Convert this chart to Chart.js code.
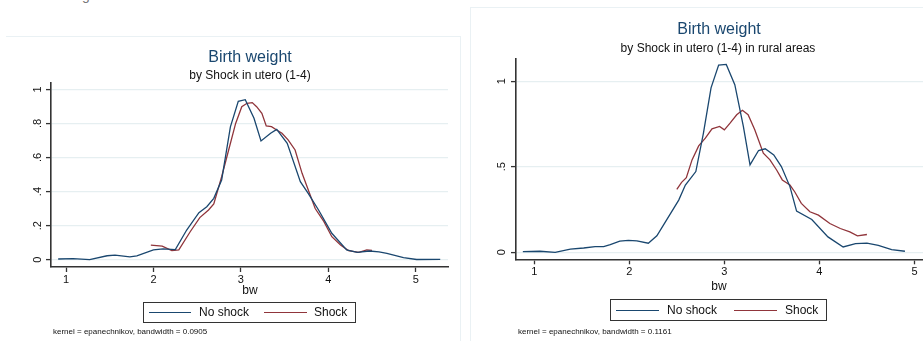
<!DOCTYPE html>
<html>
<head>
<meta charset="utf-8">
<script src="https://cdn.jsdelivr.net/npm/chart.js@4/dist/chart.umd.min.js"></script>
<style>
  body { margin: 0; background: #fff; font-family: "Liberation Sans", Arial, sans-serif; }
  #page { position: relative; width: 923px; height: 341px; overflow: hidden; }
  canvas { position: absolute; top: 0; }
  .txt { position: absolute; white-space: nowrap; line-height: 1; }
  .title { font-size: 16px; color: #1a476f; transform: translate(-50%, -50%); }
  .sub { font-size: 12px; color: #111; transform: translate(-50%, -50%); }
  .xlab { font-size: 12px; color: #111; transform: translate(-50%, -50%); }
  .note { font-size: 8px; color: #111; transform: translateY(-50%); }
  .legend { position: absolute; border: 1.5px solid #333; box-sizing: border-box; background: #fff; }
  .swatch { position: absolute; height: 0; border-top: 1.6px solid; }
  .ltxt { position: absolute; font-size: 12px; color: #111; transform: translateY(-50%); white-space: nowrap; line-height: 1; }
  .faint { position: absolute; background: #eaf1f4; }
</style>
</head>
<body>
<div id="page">
  <div class="txt" style="left:82px;top:-12px;font-size:14px;color:#777">g</div>
  <div class="faint" style="left:6px;top:36px;width:455px;height:1px"></div>
  <div class="faint" style="left:460px;top:36px;width:1px;height:305px"></div>
  <div class="faint" style="left:470px;top:7px;width:453px;height:1px"></div>
  <div class="faint" style="left:470px;top:7px;width:1px;height:334px"></div>

  <canvas id="leftChart" width="460" height="341" style="left:0"></canvas>
  <canvas id="rightChart" width="452" height="341" style="left:471px"></canvas>

  <div class="txt title" style="left:250px;top:57px">Birth weight</div>
  <div class="txt sub" style="left:250px;top:75px">by Shock in utero (1-4)</div>
  <div class="txt xlab" style="left:250px;top:290px">bw</div>
  <div class="legend" style="left:143px;top:302px;width:213px;height:21px"></div>
  <div class="swatch" style="left:149px;top:312px;width:42px;border-color:#1a476f"></div>
  <div class="ltxt" style="left:199px;top:312px">No shock</div>
  <div class="swatch" style="left:264px;top:312px;width:43px;border-color:#90353b"></div>
  <div class="ltxt" style="left:314px;top:312px">Shock</div>
  <div class="txt note" style="left:53px;top:332px">kernel = epanechnikov, bandwidth = 0.0905</div>

  <div class="txt title" style="left:719px;top:29px">Birth weight</div>
  <div class="txt sub" style="left:718px;top:48px">by Shock in utero (1-4) in rural areas</div>
  <div class="txt xlab" style="left:719px;top:286px">bw</div>
  <div class="legend" style="left:610px;top:299px;width:217px;height:22px"></div>
  <div class="swatch" style="left:616px;top:310px;width:43px;border-color:#1a476f"></div>
  <div class="ltxt" style="left:667px;top:310px">No shock</div>
  <div class="swatch" style="left:734px;top:310px;width:43px;border-color:#90353b"></div>
  <div class="ltxt" style="left:785px;top:310px">Shock</div>
  <div class="txt note" style="left:518px;top:332px">kernel = epanechnikov, bandwidth = 0.1161</div>
</div>

<script>
const bwTicks = [1, 2, 3, 4, 5];

// left panel: all areas
const leftNoShockBw = [0.91, 1.08, 1.27, 1.47, 1.56, 1.73, 1.81, 2.00, 2.11, 2.25, 2.38, 2.52, 2.61, 2.69, 2.78, 2.88, 2.97, 3.05, 3.15, 3.23, 3.34, 3.41, 3.53, 3.68, 3.77, 3.89, 4.04, 4.21, 4.33, 4.47, 4.58, 4.67, 4.86, 5.01, 5.28];
const leftNoShockDensity = [0.004, 0.006, 0, 0.023, 0.027, 0.016, 0.022, 0.057, 0.063, 0.059, 0.174, 0.276, 0.311, 0.36, 0.468, 0.78, 0.93, 0.939, 0.83, 0.697, 0.742, 0.765, 0.683, 0.458, 0.389, 0.29, 0.155, 0.057, 0.043, 0.051, 0.046, 0.037, 0.012, 0.001, 0.002];
const leftShockBw = [1.97, 2.10, 2.21, 2.29, 2.42, 2.53, 2.63, 2.69, 2.78, 2.86, 2.94, 3.01, 3.07, 3.13, 3.18, 3.24, 3.29, 3.35, 3.41, 3.47, 3.54, 3.62, 3.70, 3.77, 3.85, 3.95, 4.04, 4.14, 4.23, 4.35, 4.44, 4.50];
const leftShockDensity = [0.086, 0.08, 0.053, 0.057, 0.164, 0.247, 0.292, 0.327, 0.487, 0.644, 0.80, 0.898, 0.918, 0.922, 0.898, 0.859, 0.785, 0.781, 0.761, 0.742, 0.703, 0.644, 0.507, 0.41, 0.30, 0.223, 0.135, 0.086, 0.053, 0.043, 0.057, 0.055];
const leftYTicks = [0, 0.2, 0.4, 0.6, 0.8, 1];
const leftYLabels = ["0", ".2", ".4", ".6", ".8", "1"];

// right panel: rural areas
const rightNoShockBw = [0.88, 1.06, 1.22, 1.38, 1.52, 1.64, 1.73, 1.80, 1.90, 1.99, 2.08, 2.20, 2.29, 2.38, 2.52, 2.59, 2.70, 2.78, 2.86, 2.94, 3.02, 3.11, 3.20, 3.27, 3.36, 3.43, 3.52, 3.60, 3.69, 3.76, 3.92, 4.09, 4.25, 4.38, 4.50, 4.62, 4.76, 4.90];
const rightNoShockDensity = [0.004, 0.006, 0, 0.018, 0.025, 0.033, 0.033, 0.045, 0.065, 0.07, 0.067, 0.053, 0.096, 0.178, 0.305, 0.393, 0.472, 0.697, 0.961, 1.094, 1.098, 0.98, 0.736, 0.511, 0.595, 0.605, 0.569, 0.501, 0.384, 0.241, 0.192, 0.09, 0.031, 0.051, 0.053, 0.041, 0.016, 0.006];
const rightShockBw = [2.50, 2.55, 2.60, 2.66, 2.73, 2.80, 2.87, 2.95, 3.00, 3.06, 3.13, 3.19, 3.25, 3.32, 3.41, 3.48, 3.55, 3.61, 3.69, 3.74, 3.81, 3.90, 3.99, 4.11, 4.22, 4.32, 4.40, 4.50];
const rightShockDensity = [0.368, 0.409, 0.436, 0.54, 0.622, 0.667, 0.722, 0.736, 0.716, 0.755, 0.804, 0.83, 0.804, 0.716, 0.579, 0.540, 0.481, 0.423, 0.393, 0.354, 0.286, 0.237, 0.217, 0.168, 0.139, 0.119, 0.096, 0.104];
const rightYTicks = [0, 0.5, 1];
const rightYLabels = ["0", ".5", "1"];

const BLUE = "#1a476f";
const RED = "#90353b";
const AXIS = "#333";
const GRID = "#e6eff1";
const FONT = '"Liberation Sans", Arial, sans-serif';

function toPoints(xs, ys) {
    return xs.map((x, i) => ({x: x, y: ys[i]}));
}

// y tick labels in Stata are turned on their side, Chart.js can't rotate them
const rotatedYLabels = {
    id: "rotatedYLabels",
    afterDraw(chart, args, opts) {
        const ctx = chart.ctx;
        const y = chart.scales.y;
        ctx.save();
        ctx.font = "11px " + FONT;
        ctx.fillStyle = "#111";
        ctx.textAlign = "center";
        ctx.textBaseline = "middle";
        opts.values.forEach((v, i) => {
            ctx.save();
            ctx.translate(opts.x, y.getPixelForValue(v));
            ctx.rotate(-Math.PI / 2);
            ctx.fillText(opts.labels[i], 0, 0);
            ctx.restore();
        });
        ctx.restore();
    }
};

function makeChart(id, cfg) {
    return new Chart(document.getElementById(id), {
        type: "line",
        data: {
            datasets: [
                {label: "No shock", data: toPoints(cfg.noShockBw, cfg.noShockDensity), borderColor: BLUE, borderWidth: 1.3},
                {label: "Shock", data: toPoints(cfg.shockBw, cfg.shockDensity), borderColor: RED, borderWidth: 1.3}
            ]
        },
        options: {
            responsive: false,
            animation: false,
            devicePixelRatio: 1,
            elements: {point: {radius: 0}, line: {tension: 0}},
            layout: {padding: {left: 0, right: cfg.padRight, top: cfg.padTop, bottom: 0}},
            plugins: {
                legend: {display: false},
                tooltip: {enabled: false},
                rotatedYLabels: {values: cfg.yTicks, labels: cfg.yLabels, x: cfg.yLabelX}
            },
            scales: {
                x: {
                    type: "linear",
                    min: cfg.xMin,
                    max: cfg.xMax,
                    afterBuildTicks: s => { s.ticks = bwTicks.map(v => ({value: v})); },
                    afterFit: s => { s.height = cfg.xHeight; },
                    ticks: {font: {size: 11, family: FONT}, color: "#111", padding: 1, maxRotation: 0},
                    grid: {drawOnChartArea: false, drawTicks: true, tickLength: 5, tickColor: AXIS, tickWidth: 1.3},
                    border: {color: AXIS, width: 1.6}
                },
                y: {
                    min: cfg.yMin,
                    max: cfg.yMax,
                    afterBuildTicks: s => { s.ticks = cfg.yTicks.map(v => ({value: v})); },
                    afterFit: s => { s.width = cfg.yWidth; },
                    ticks: {display: false},
                    grid: {color: GRID, lineWidth: 1.2, drawTicks: true, tickLength: 5, tickColor: AXIS, tickWidth: 1.3},
                    border: {color: AXIS, width: 1.6}
                }
            }
        },
        plugins: [rotatedYLabels]
    });
}

makeChart("leftChart", {
    noShockBw: leftNoShockBw, noShockDensity: leftNoShockDensity,
    shockBw: leftShockBw, shockDensity: leftShockDensity,
    yTicks: leftYTicks, yLabels: leftYLabels,
    xMin: 0.828, xMax: 5.369, yMin: -0.043, yMax: 1.039,
    yWidth: 51, xHeight: 74, padTop: 82.7, padRight: 12, yLabelX: 37.7
});

// right canvas starts at x=471, so its own coordinates are shifted by 471
makeChart("rightChart", {
    noShockBw: rightNoShockBw, noShockDensity: rightNoShockDensity,
    shockBw: rightShockBw, shockDensity: rightShockDensity,
    yTicks: rightYTicks, yLabels: rightYLabels,
    xMin: 0.808, xMax: 5.09, yMin: -0.041, yMax: 1.134,
    yWidth: 45, xHeight: 81.7, padTop: 58.3, padRight: 0, yLabelX: 30.7
});
</script>
</body>
</html>
